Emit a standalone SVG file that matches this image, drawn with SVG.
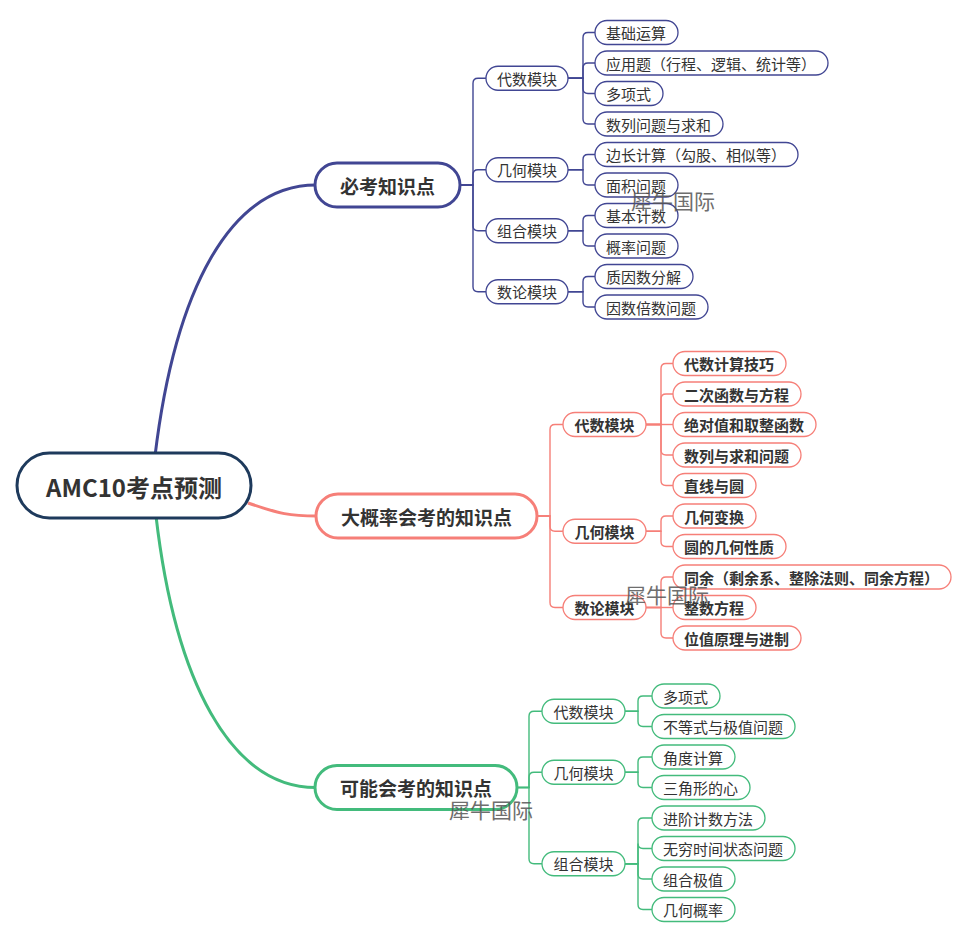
<svg xmlns="http://www.w3.org/2000/svg" width="958" height="931" viewBox="0 0 958 931">
<style>
text{font-family:"Noto Sans CJK SC","Liberation Sans",sans-serif;fill:#333;text-anchor:middle;dominant-baseline:central}
.t15{font-size:15px}
.b{font-weight:bold}
.l1{font-size:19px;font-weight:bold}
.root{font-size:24px;font-weight:bold}
.wm{font-size:21px;fill:#555;opacity:.85;text-anchor:start}
.cp{fill:none;stroke:#414693;stroke-width:1.4}
.cr{fill:none;stroke:#f67f78;stroke-width:1.4}
.cg{fill:none;stroke:#43bb7c;stroke-width:1.4}
.np rect{fill:#fff;stroke:#414693;stroke-width:1.3}
.nr rect{fill:#fff;stroke:#f67f78;stroke-width:1.3}
.ng rect{fill:#fff;stroke:#43bb7c;stroke-width:1.3}
.big rect{stroke-width:3}
</style>
<rect width="958" height="931" fill="#fff"/>
<g id="connectors">
<path d="M155,456 C175,290 230,185 316,185" fill="none" stroke="#414693" stroke-width="3"/>
<path d="M248,503 C280,514 290,516 317,516" fill="none" stroke="#f67f78" stroke-width="3"/>
<path d="M156,516 C175,680 230,787.5 316,787.5" fill="none" stroke="#43bb7c" stroke-width="3"/>
<g class="cp">
<path d="M460,185 H473 V83.25 Q473,78.25 478,78.25 H486"/>
<path d="M460,185 H473 V174.75 Q473,169.75 478,169.75 H486"/>
<path d="M460,185 H473 V225.75 Q473,230.75 478,230.75 H486"/>
<path d="M460,185 H473 V286.75 Q473,291.75 478,291.75 H486"/>
<path d="M568,78.25 H583 V37.5 Q583,32.5 588,32.5 H595"/>
<path d="M568,78.25 H583 V68 Q583,63 588,63 H595"/>
<path d="M568,78.25 H583 V88.5 Q583,93.5 588,93.5 H595"/>
<path d="M568,78.25 H583 V119 Q583,124 588,124 H595"/>
<path d="M568,169.75 H583 V159.5 Q583,154.5 588,154.5 H595"/>
<path d="M568,169.75 H583 V180 Q583,185 588,185 H595"/>
<path d="M568,230.75 H583 V220.5 Q583,215.5 588,215.5 H595"/>
<path d="M568,230.75 H583 V241 Q583,246 588,246 H595"/>
<path d="M568,291.75 H583 V281.5 Q583,276.5 588,276.5 H595"/>
<path d="M568,291.75 H583 V302 Q583,307 588,307 H595"/>
</g>
<g class="cr">
<path d="M537,516 H550 V429.5 Q550,424.5 555,424.5 H563"/>
<path d="M537,516 H550 V526.25 Q550,531.25 555,531.25 H563"/>
<path d="M537,516 H550 V602.5 Q550,607.5 555,607.5 H563"/>
<path d="M646,424.5 H661 V368.5 Q661,363.5 666,363.5 H673"/>
<path d="M646,424.5 H661 V399 Q661,394 666,394 H673"/>
<path d="M646,424.5 H673"/>
<path d="M646,424.5 H661 V450 Q661,455 666,455 H673"/>
<path d="M646,424.5 H661 V480.5 Q661,485.5 666,485.5 H673"/>
<path d="M646,531.25 H661 V521 Q661,516 666,516 H673"/>
<path d="M646,531.25 H661 V541.5 Q661,546.5 666,546.5 H673"/>
<path d="M646,607.5 H661 V582 Q661,577 666,577 H673"/>
<path d="M646,607.5 H673"/>
<path d="M646,607.5 H661 V633 Q661,638 666,638 H673"/>
</g>
<g class="cg">
<path d="M517,787.5 H529 V716.25 Q529,711.25 534,711.25 H542"/>
<path d="M517,787.5 H529 V777.25 Q529,772.25 534,772.25 H542"/>
<path d="M517,787.5 H529 V858.75 Q529,863.75 534,863.75 H542"/>
<path d="M625,711.25 H638 V701 Q638,696 643,696 H652"/>
<path d="M625,711.25 H638 V721.5 Q638,726.5 643,726.5 H652"/>
<path d="M625,772.25 H638 V762 Q638,757 643,757 H652"/>
<path d="M625,772.25 H638 V782.5 Q638,787.5 643,787.5 H652"/>
<path d="M625,863.75 H638 V823 Q638,818 643,818 H652"/>
<path d="M625,863.75 H638 V843.5 Q638,848.5 643,848.5 H652"/>
<path d="M625,863.75 H638 V874 Q638,879 643,879 H652"/>
<path d="M625,863.75 H638 V904.5 Q638,909.5 643,909.5 H652"/>
</g>
</g>

<g id="root"><rect x="17" y="453" width="234" height="65" rx="32.5" fill="#fff" stroke="#1e3a5c" stroke-width="3"/><text class="root" x="134" y="486">AMC10考点预测</text></g>

<g id="n-bikao" class="np big"><rect x="315" y="163" width="145" height="44" rx="22"/><text class="l1" x="387.5" y="185">必考知识点</text></g>
<g id="n-dagailv" class="nr big"><rect x="316" y="494" width="221" height="44" rx="22"/><text class="l1" x="426.5" y="516">大概率会考的知识点</text></g>
<g id="n-keneng" class="ng big"><rect x="315" y="765.5" width="202" height="44" rx="22"/><text class="l1" x="416" y="787.5">可能会考的知识点</text></g>

<g id="p-daishu" class="np"><rect x="486" y="66.25" width="82" height="24" rx="12"/><text class="t15" x="527" y="78.25">代数模块</text></g>
<g id="p-jihe" class="np"><rect x="486" y="157.75" width="82" height="24" rx="12"/><text class="t15" x="527" y="169.75">几何模块</text></g>
<g id="p-zuhe" class="np"><rect x="486" y="218.75" width="82" height="24" rx="12"/><text class="t15" x="527" y="230.75">组合模块</text></g>
<g id="p-shulun" class="np"><rect x="486" y="279.75" width="82" height="24" rx="12"/><text class="t15" x="527" y="291.75">数论模块</text></g>

<g id="p1" class="np"><rect x="595" y="20.5" width="83" height="24" rx="12"/><text class="t15" x="636" y="32.5">基础运算</text></g>
<g id="p2" class="np"><rect x="595" y="51" width="233" height="24" rx="12"/><text class="t15" x="711" y="63">应用题（行程、逻辑、统计等）</text></g>
<g id="p3" class="np"><rect x="595" y="81.5" width="68" height="24" rx="12"/><text class="t15" x="628.5" y="93.5">多项式</text></g>
<g id="p4" class="np"><rect x="595" y="112" width="128" height="24" rx="12"/><text class="t15" x="658.5" y="124">数列问题与求和</text></g>
<g id="p5" class="np"><rect x="595" y="142.5" width="203" height="24" rx="12"/><text class="t15" x="696" y="154.5">边长计算（勾股、相似等）</text></g>
<g id="p6" class="np"><rect x="595" y="173" width="83" height="24" rx="12"/><text class="t15" x="636" y="185">面积问题</text></g>
<g id="p7" class="np"><rect x="595" y="203.5" width="83" height="24" rx="12"/><text class="t15" x="636" y="215.5">基本计数</text></g>
<g id="p8" class="np"><rect x="595" y="234" width="83" height="24" rx="12"/><text class="t15" x="636" y="246">概率问题</text></g>
<g id="p9" class="np"><rect x="595" y="264.5" width="98" height="24" rx="12"/><text class="t15" x="643.5" y="276.5">质因数分解</text></g>
<g id="p10" class="np"><rect x="595" y="295" width="113" height="24" rx="12"/><text class="t15" x="651" y="307">因数倍数问题</text></g>

<g id="r-daishu" class="nr"><rect x="563" y="412.5" width="83" height="24" rx="12"/><text class="t15 b" x="604.5" y="424.5">代数模块</text></g>
<g id="r-jihe" class="nr"><rect x="563" y="519.25" width="83" height="24" rx="12"/><text class="t15 b" x="604.5" y="531.25">几何模块</text></g>
<g id="r-shulun" class="nr"><rect x="563" y="595.5" width="83" height="24" rx="12"/><text class="t15 b" x="604.5" y="607.5">数论模块</text></g>

<g id="r1" class="nr"><rect x="673" y="351.5" width="113" height="24" rx="12"/><text class="t15 b" x="729" y="363.5">代数计算技巧</text></g>
<g id="r2" class="nr"><rect x="673" y="382" width="128" height="24" rx="12"/><text class="t15 b" x="736.5" y="394">二次函数与方程</text></g>
<g id="r3" class="nr"><rect x="673" y="412.5" width="143" height="24" rx="12"/><text class="t15 b" x="744" y="424.5">绝对值和取整函数</text></g>
<g id="r4" class="nr"><rect x="673" y="443" width="128" height="24" rx="12"/><text class="t15 b" x="736.5" y="455">数列与求和问题</text></g>
<g id="r5" class="nr"><rect x="673" y="473.5" width="83" height="24" rx="12"/><text class="t15 b" x="714" y="485.5">直线与圆</text></g>
<g id="r6" class="nr"><rect x="673" y="504" width="83" height="24" rx="12"/><text class="t15 b" x="714" y="516">几何变换</text></g>
<g id="r7" class="nr"><rect x="673" y="534.5" width="113" height="24" rx="12"/><text class="t15 b" x="729" y="546.5">圆的几何性质</text></g>
<g id="r8" class="nr"><rect x="673" y="565" width="278" height="24" rx="12"/><text class="t15 b" x="811.5" y="577">同余（剩余系、整除法则、同余方程）</text></g>
<g id="r9" class="nr"><rect x="673" y="595.5" width="83" height="24" rx="12"/><text class="t15 b" x="714" y="607.5">整数方程</text></g>
<g id="r10" class="nr"><rect x="673" y="626" width="128" height="24" rx="12"/><text class="t15 b" x="736.5" y="638">位值原理与进制</text></g>

<g id="g-daishu" class="ng"><rect x="542" y="699.25" width="83" height="24" rx="12"/><text class="t15" x="583.5" y="711.25">代数模块</text></g>
<g id="g-jihe" class="ng"><rect x="542" y="760.25" width="83" height="24" rx="12"/><text class="t15" x="583.5" y="772.25">几何模块</text></g>
<g id="g-zuhe" class="ng"><rect x="542" y="851.75" width="83" height="24" rx="12"/><text class="t15" x="583.5" y="863.75">组合模块</text></g>

<g id="g1" class="ng"><rect x="652" y="684" width="68" height="24" rx="12"/><text class="t15" x="685.5" y="696">多项式</text></g>
<g id="g2" class="ng"><rect x="652" y="714.5" width="143" height="24" rx="12"/><text class="t15" x="723" y="726.5">不等式与极值问题</text></g>
<g id="g3" class="ng"><rect x="652" y="745" width="83" height="24" rx="12"/><text class="t15" x="693" y="757">角度计算</text></g>
<g id="g4" class="ng"><rect x="652" y="775.5" width="98" height="24" rx="12"/><text class="t15" x="700.5" y="787.5">三角形的心</text></g>
<g id="g5" class="ng"><rect x="652" y="806" width="113" height="24" rx="12"/><text class="t15" x="708" y="818">进阶计数方法</text></g>
<g id="g6" class="ng"><rect x="652" y="836.5" width="143" height="24" rx="12"/><text class="t15" x="723" y="848.5">无穷时间状态问题</text></g>
<g id="g7" class="ng"><rect x="652" y="867" width="83" height="24" rx="12"/><text class="t15" x="693" y="879">组合极值</text></g>
<g id="g8" class="ng"><rect x="652" y="897.5" width="83" height="24" rx="12"/><text class="t15" x="693" y="909.5">几何概率</text></g>

<g id="watermarks">
<text class="wm" x="631" y="200">犀牛国际</text>
<text class="wm" x="625" y="594">犀牛国际</text>
<text class="wm" x="449" y="809">犀牛国际</text>
</g>
</svg>
